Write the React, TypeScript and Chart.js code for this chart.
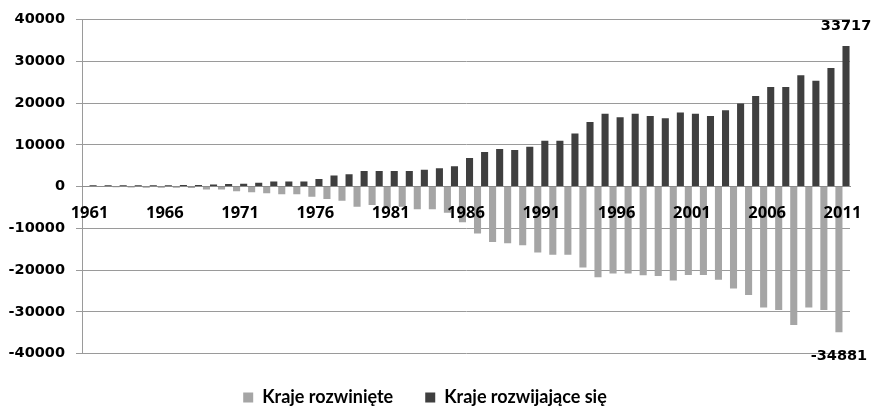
import React, { useEffect, useRef } from "react";
import { Chart, registerables } from "chart.js";

Chart.register(...registerables);

const years: string[] = [];
for (let y = 1961; y <= 2011; y++) years.push(String(y));

const developed: number[] = [
  -100, -100, -150, -200, -300, -300, -300, -350, -700, -700,
  -1100, -1350, -1600, -1850, -1850, -2450, -3000, -3400, -4850, -4400,
  -5050, -4850, -5450, -5450, -6250, -8550, -11250, -13250, -13550, -14050,
  -15800, -16350, -16350, -19400, -21700, -20850, -20850, -21250, -21450, -22500,
  -21200, -21200, -22300, -24450, -25950, -29000, -29600, -33150, -29000, -29600,
  -34881,
];

const developing: number[] = [
  300, 300, 300, 300, 350, 350, 400, 400, 500, 650,
  700, 950, 1200, 1200, 1250, 1800, 2650, 2950, 3750, 3750,
  3750, 3750, 4050, 4400, 4850, 6850, 8300, 9000, 8800, 9550,
  11000, 11000, 12750, 15500, 17450, 16650, 17450, 16900, 16400, 17750,
  17450, 16900, 18300, 19900, 21700, 23900, 23900, 26700, 25350, 28400,
  33717,
];

const seriesNames = ["Kraje rozwinięte", "Kraje rozwijające się"];
const yMin = -40000;
const yMax = 40000;
const yStep = 10000;

const endLabels = {
  id: "endLabels",
  afterDatasetsDraw(chart: any) {
    const ctx = chart.ctx;
    const last = years.length - 1;
    ctx.save();
    ctx.font = 'bold 14.5px "DejaVu Sans"';
    ctx.fillStyle = "#000";
    ctx.textAlign = "center";
    ctx.textBaseline = "middle";
    const dark = chart.getDatasetMeta(1).data[last];
    ctx.fillText(String(developing[last]), dark.x, dark.y - 20);
    const gray = chart.getDatasetMeta(0).data[last];
    ctx.fillText(String(developed[last]), gray.x, gray.y + 24);
    ctx.restore();
  },
};

export default function App() {
  const ref = useRef<HTMLCanvasElement | null>(null);
  useEffect(() => {
    if (!ref.current) return;
    const chart = new Chart(ref.current, {
      type: "bar",
      data: {
        labels: years,
        datasets: [
          {
            label: seriesNames[0],
            data: developed,
            backgroundColor: "#a5a5a5",
            borderWidth: 0,
            categoryPercentage: 0.94,
            barPercentage: 1.0,
          },
          {
            label: seriesNames[1],
            data: developing,
            backgroundColor: "#3f3f3f",
            borderWidth: 0,
            categoryPercentage: 0.94,
            barPercentage: 1.0,
          },
        ],
      },
      options: {
        animation: false,
        responsive: true,
        maintainAspectRatio: false,
        layout: { padding: { top: 19, right: 24, left: 0, bottom: -8.5 } },
        plugins: {
          tooltip: { enabled: false },
          legend: {
            position: "bottom",
            title: { display: true, text: " ", font: { size: 3, lineHeight: 1 }, padding: 0 },
            labels: {
              boxWidth: 10,
              boxHeight: 10,
              padding: 32,
              color: "#000",
              font: { family: "Lato", size: 18, weight: "bold" },
            },
          },
        },
        scales: {
          x: {
            type: "category",
            position: { y: 0 } as any,
            afterFit: (s: any) => {
              s.paddingLeft = 0;
              s.paddingRight = 0;
            },
            grid: { display: false, drawTicks: false, z: 1 },
            border: { display: true, color: "#8c8c8c", width: 1, z: 1 },
            ticks: {
              z: 1,
              autoSkip: false,
              maxRotation: 0,
              minRotation: 0,
              padding: 17,
              color: "#000",
              font: { family: "Noto Sans", size: 16.5, weight: "bold" },
              callback: (_v: any, i: number) => (i % 5 === 0 ? years[i] : null),
            },
          },
          y: {
            min: yMin,
            max: yMax,
            afterFit: (s: any) => {
              s.width = 82;
            },
            grid: { color: "#9a9a9a", lineWidth: 1, tickLength: 6 },
            border: { display: true, color: "#9a9a9a", width: 1 },
            ticks: {
              stepSize: yStep,
              padding: 11,
              color: "#000",
              font: { family: "DejaVu Sans", size: 14.5, weight: "bold" },
              callback: (v: any) => String(v),
            },
          },
        },
      },
      plugins: [endLabels],
    });
    return () => chart.destroy();
  }, []);
  return (
    <div style={{ position: "fixed", left: 0, top: 0, width: 874, height: 408, background: "#fff" }}>
      <canvas ref={ref} />
    </div>
  );
}
